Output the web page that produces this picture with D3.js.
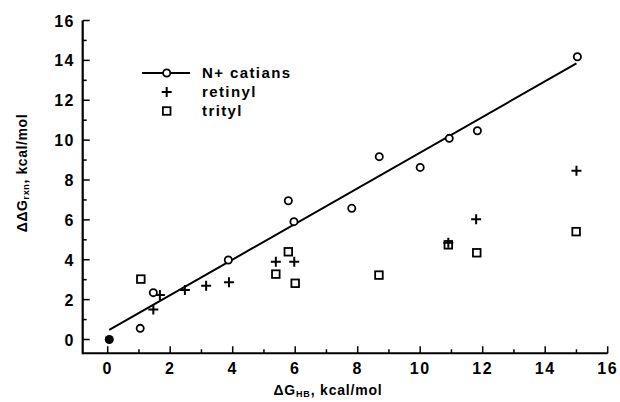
<!DOCTYPE html>
<html><head><meta charset="utf-8">
<script src="https://cdn.jsdelivr.net/npm/d3@7"></script>
<style>body{margin:0;background:#fff}svg{display:block}</style>
</head><body>
<script>
const nCationsX = [1.04, 1.46, 3.86, 5.78, 5.96, 7.81, 8.69, 10.0, 10.93, 11.83, 15.03];
const nCationsY = [0.56, 2.35, 3.99, 6.96, 5.91, 6.58, 9.17, 8.63, 10.09, 10.47, 14.18];
const retinylX = [1.46, 1.67, 2.47, 3.15, 3.88, 5.38, 5.97, 10.9, 11.79, 15.0];
const retinylY = [1.51, 2.23, 2.48, 2.70, 2.87, 3.90, 3.90, 4.85, 6.03, 8.47];
const tritylX = [1.06, 5.38, 5.78, 6.0, 8.68, 10.9, 11.81, 14.99];
const tritylY = [3.03, 3.28, 4.40, 2.82, 3.23, 4.75, 4.35, 5.41];
const originX = [0.05];
const originY = [0.0];
const fitX = [0.05, 15.0];
const fitY = [0.48, 13.85];
const xTicks = [0, 2, 4, 6, 8, 10, 12, 14, 16];
const yTicks = [0, 2, 4, 6, 8, 10, 12, 14, 16];
const minorTicks = [1, 3, 5, 7, 9, 11, 13, 15];
const legendLabels = ["N+ catians", "retinyl", "trityl"];

const W = 620, H = 402;
const svg = d3.select("body").append("svg").attr("width", W).attr("height", H);
const x = d3.scaleLinear().domain([0, 16]).range([107.7, 607.7]);
const y = d3.scaleLinear().domain([0, 16]).range([339.5, 20.5]);
const xAxisY = y(-0.69), yAxisX = x(-0.8);
const font = "'Liberation Sans', Arial, sans-serif";

// axes lines
svg.append("line").attr("x1", yAxisX).attr("x2", x(16)).attr("y1", xAxisY).attr("y2", xAxisY)
  .attr("stroke", "#000").attr("stroke-width", 2.2);
svg.append("line").attr("x1", yAxisX).attr("x2", yAxisX).attr("y1", xAxisY + 1).attr("y2", y(16))
  .attr("stroke", "#000").attr("stroke-width", 2.2);

// ticks (inward)
svg.selectAll(".xt").data(xTicks).enter().append("line")
  .attr("x1", d => x(d)).attr("x2", d => x(d)).attr("y1", xAxisY).attr("y2", xAxisY - 7)
  .attr("stroke", "#000").attr("stroke-width", 1.5);
svg.selectAll(".xm").data(minorTicks).enter().append("line")
  .attr("x1", d => x(d)).attr("x2", d => x(d)).attr("y1", xAxisY).attr("y2", xAxisY - 4)
  .attr("stroke", "#000").attr("stroke-width", 1.5);
svg.selectAll(".yt").data(yTicks).enter().append("line")
  .attr("x1", yAxisX).attr("x2", yAxisX + 7).attr("y1", d => y(d)).attr("y2", d => y(d))
  .attr("stroke", "#000").attr("stroke-width", 1.5);
svg.selectAll(".ym").data(minorTicks).enter().append("line")
  .attr("x1", yAxisX).attr("x2", yAxisX + 4).attr("y1", d => y(d)).attr("y2", d => y(d))
  .attr("stroke", "#000").attr("stroke-width", 1.5);

// tick labels
svg.selectAll(".xl").data(xTicks).enter().append("text")
  .attr("x", d => x(d)).attr("y", 374).attr("text-anchor", "middle")
  .attr("font-family", font).attr("font-weight", "bold").attr("font-size", 16)
  .attr("letter-spacing", 1.5).text(d => d);
svg.selectAll(".yl").data(yTicks).enter().append("text")
  .attr("x", 75).attr("y", d => y(d) + 6).attr("text-anchor", "end")
  .attr("font-family", font).attr("font-weight", "bold").attr("font-size", 16)
  .attr("letter-spacing", 1.5).text(d => d);

// axis titles
const xt = svg.append("text").attr("x", 328).attr("y", 395).attr("text-anchor", "middle")
  .attr("font-family", font).attr("font-weight", "bold").attr("font-size", 14).attr("letter-spacing", 0.8);
xt.append("tspan").text("ΔG");
xt.append("tspan").attr("font-size", 9).attr("dy", 2).text("HB");
xt.append("tspan").attr("dy", -2).text(", kcal/mol");
const yt = svg.append("text").attr("transform", "translate(27,173) rotate(-90)").attr("text-anchor", "middle")
  .attr("font-family", font).attr("font-weight", "bold").attr("font-size", 14).attr("letter-spacing", 0.6);
yt.append("tspan").text("ΔΔG");
yt.append("tspan").attr("font-size", 9).attr("dy", 2).text("rxn");
yt.append("tspan").attr("dy", -2).text(", kcal/mol");

// fit line
svg.append("line").attr("x1", x(fitX[0])).attr("y1", y(fitY[0])).attr("x2", x(fitX[1])).attr("y2", y(fitY[1]))
  .attr("stroke", "#000").attr("stroke-width", 2);

// markers
function circle(g, cx, cy) {
  g.append("circle").attr("cx", cx).attr("cy", cy).attr("r", 3.6)
    .attr("fill", "#fff").attr("stroke", "#000").attr("stroke-width", 1.8);
}
function plus(g, cx, cy) {
  g.append("path").attr("d", `M${cx-5},${cy}H${cx+5}M${cx},${cy-5}V${cy+5}`)
    .attr("stroke", "#000").attr("stroke-width", 2).attr("fill", "none");
}
function square(g, cx, cy) {
  g.append("rect").attr("x", cx - 3.8).attr("y", cy - 3.8).attr("width", 7.6).attr("height", 7.6)
    .attr("fill", "none").attr("stroke", "#000").attr("stroke-width", 1.8);
}
const g = svg.append("g");
tritylX.forEach((v, i) => square(g, x(v), y(tritylY[i])));
retinylX.forEach((v, i) => plus(g, x(v), y(retinylY[i])));
nCationsX.forEach((v, i) => circle(g, x(v), y(nCationsY[i])));
originX.forEach((v, i) => g.append("circle").attr("cx", x(v)).attr("cy", y(originY[i])).attr("r", 4.5).attr("fill", "#000"));

// legend
const lg = svg.append("g");
const ly = [73, 92, 111];
lg.append("line").attr("x1", 142).attr("x2", 190).attr("y1", ly[0]).attr("y2", ly[0]).attr("stroke", "#000").attr("stroke-width", 2);
circle(lg, 166.7, ly[0]);
plus(lg, 166.7, ly[1]);
square(lg, 166.7, ly[2]);
legendLabels.forEach((t, i) => lg.append("text").attr("x", 202).attr("y", ly[i] + 5)
  .attr("font-family", font).attr("font-weight", "bold").attr("font-size", 15)
  .attr("letter-spacing", 1.4).text(t));
</script>
</body></html>
